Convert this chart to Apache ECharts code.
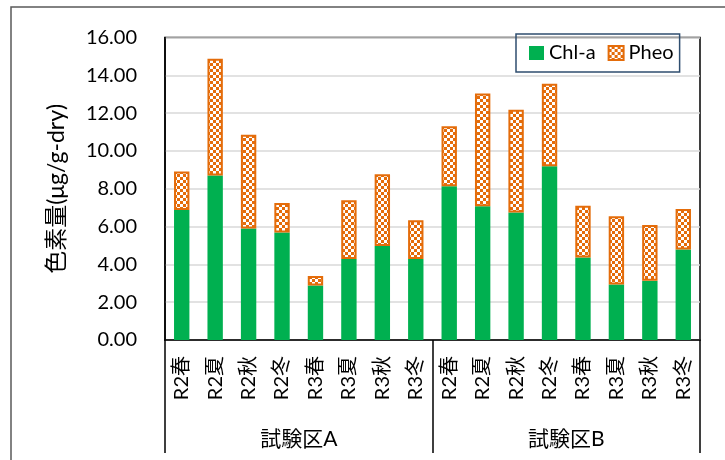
<!DOCTYPE html>
<html>
<head>
<meta charset="utf-8">
<script src="https://cdn.jsdelivr.net/npm/echarts@6/dist/echarts.min.js"></script>
<style>
  html, body { margin: 0; padding: 0; background: #fff; }
  #chart { width: 725px; height: 460px; }
</style>
</head>
<body>
<div id="chart"></div>
<script>
// Pigment content per sampling (μg/g-dry)
const categories = ['R2春', 'R2夏', 'R2秋', 'R2冬', 'R3春', 'R3夏', 'R3秋', 'R3冬',
                    'R2春', 'R2夏', 'R2秋', 'R2冬', 'R3春', 'R3夏', 'R3秋', 'R3冬'];
const groups = ['試験区A', '試験区B'];
const chlA = [6.88, 8.70, 5.90, 5.69, 2.88, 4.29, 4.97, 4.29,
              8.13, 7.07, 6.75, 9.19, 4.37, 2.93, 3.13, 4.79];
const pheo = [2.03, 6.18, 4.95, 1.56, 0.50, 3.10, 3.80, 2.04,
              3.18, 5.97, 5.43, 4.37, 2.73, 3.61, 2.95, 2.14];
const yTicks = { min: 0, max: 16, interval: 2 };

const FONT = 'Lato, "Noto Sans CJK JP", sans-serif';
const TEXT = '#000';
const GREEN = '#00B050';
const ORANGE = '#E46C0A';

// Orange/white checkerboard fill for the Pheo bars
function checker() {
  const c = document.createElement('canvas');
  const s = 3;
  c.width = s * 2; c.height = s * 2;
  const g = c.getContext('2d');
  g.fillStyle = ORANGE;
  g.fillRect(0, 0, s * 2, s * 2);
  g.fillStyle = '#ffffff';
  g.fillRect(0, 0, s, s);
  g.fillRect(s, s, s, s);
  return c;
}

const chart = echarts.init(document.getElementById('chart'), null, { renderer: 'canvas' });

chart.setOption({
  animation: false,
  backgroundColor: '#ffffff',
  textStyle: { fontFamily: FONT, color: TEXT },
  graphic: [{
    type: 'rect',
    shape: { x: 11, y: 7, width: 730, height: 470 },
    style: { fill: 'none', stroke: '#595959', lineWidth: 1.5 },
    silent: true
  }],
  grid: {
    left: 165, right: 25, top: 37.5, bottom: 120,
    show: true, borderColor: '#000', borderWidth: 1.5
  },
  legend: {
    left: 516, top: 34,
    padding: [9, 6, 9, 13],
    borderColor: '#2F4E6F', borderWidth: 1.5,
    itemWidth: 15, itemHeight: 14, itemGap: 12,
    textStyle: { fontFamily: FONT, fontSize: 20, color: TEXT },
    data: [{ name: 'Chl-a', icon: 'rect' }, { name: 'Pheo', icon: 'rect' }]
  },
  xAxis: [{
    type: 'category',
    data: categories,
    axisLine: { show: true, lineStyle: { color: '#000', width: 1.5 } },
    axisTick: { show: false },
    axisLabel: {
      rotate: 90, margin: 16, interval: 0,
      fontFamily: FONT, fontSize: 20, color: TEXT
    }
  }, {
    type: 'category',
    data: groups,
    position: 'bottom',
    axisLine: { show: false },
    axisTick: { show: true, length: 113, lineStyle: { color: '#000', width: 1.5 } },
    axisLabel: { margin: 89, fontFamily: FONT, fontSize: 21, color: TEXT },
    splitLine: { show: false }
  }],
  yAxis: {
    type: 'value',
    min: yTicks.min, max: yTicks.max, interval: yTicks.interval,
    name: '色素量(μg/g-dry)',
    nameLocation: 'middle', nameRotate: 90, nameGap: 97,
    nameTextStyle: { fontFamily: FONT, fontSize: 23, color: TEXT },
    axisLine: { show: true, lineStyle: { color: '#000', width: 1.5 } },
    axisTick: { show: false },
    axisLabel: {
      margin: 28, fontFamily: FONT, fontSize: 20, color: TEXT,
      formatter: v => v.toFixed(2)
    },
    splitLine: { lineStyle: { color: '#D9D9D9', width: 1.5 } }
  },
  series: [{
    name: 'Chl-a',
    type: 'bar',
    stack: 'pigment',
    barWidth: '46%',
    itemStyle: { color: GREEN },
    data: chlA
  }, {
    name: 'Pheo',
    type: 'bar',
    stack: 'pigment',
    barWidth: '46%',
    itemStyle: {
      color: { image: checker(), repeat: 'repeat' },
      borderColor: ORANGE, borderWidth: 2
    },
    data: pheo
  }]
});
</script>
</body>
</html>
